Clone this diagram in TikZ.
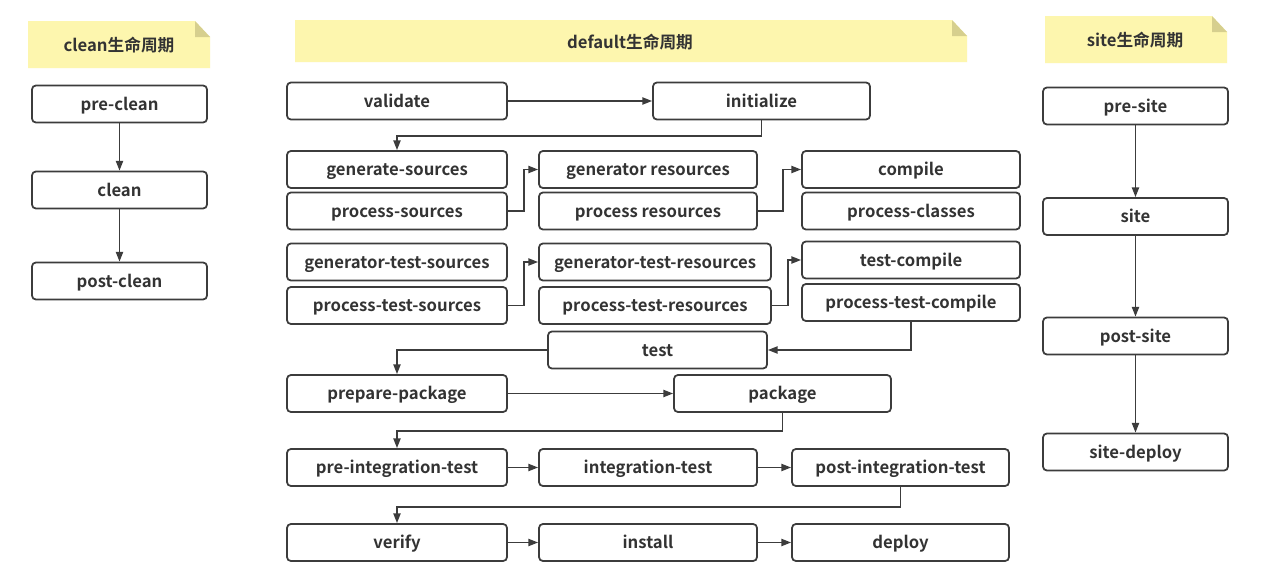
\documentclass[tikz,border=0pt]{standalone}
\usepackage{fontspec}
\setmainfont{Noto Sans CJK SC}[BoldFont={Noto Sans CJK SC Bold}]
\usetikzlibrary{arrows.meta}
\definecolor{notefill}{RGB}{253,246,174}
\definecolor{notefold}{RGB}{214,207,142}
\definecolor{ink}{RGB}{60,60,60}
\definecolor{txt}{RGB}{51,51,51}
\tikzset{
  box/.style={draw=ink, line width=1pt, rounded corners=2.2pt, fill=white,
    minimum height=0.74cm, inner sep=0pt, text=txt,
    text height=0.87em, text depth=0.15em,
    font=\fontsize{9.5}{11}\selectfont\bfseries},
  arr/.style={draw=ink, line width=1pt, -{Triangle[length=5.5pt,width=4pt]}},
  notetxt/.style={text=txt, font=\fontsize{9.5}{11}\selectfont\bfseries, inner sep=0pt,
    text height=0.87em, text depth=0.15em}
}
\newcommand{\notebox}[4]{% x1,y1,x2,y2
  \fill[notefill] (#1,#2) -- ({#3-15},#2) -- (#3,{#2+16}) -- (#3,#4) -- (#1,#4) -- cycle;
  \fill[notefold] ({#3-15},#2) -- ({#3-15},{#2+16}) -- (#3,{#2+16}) -- cycle;
}
\begin{document}
\begin{tikzpicture}[x=0.02cm,y=-0.02cm]
\useasboundingbox (0,0) rectangle (1271,575);
\fill[white] (0,0) rectangle (1271,575);

% ---------- headers ----------
\notebox{28}{21}{210}{68}
\node[notetxt] (hclean) at (119,45) {clean生命周期};
\notebox{295}{20}{967}{62}
\node[notetxt] (hdefault) at (630,42) {default生命周期};
\notebox{1045}{16}{1227}{63}
\node[notetxt] (hsite) at (1135,40) {site生命周期};

% ---------- clean ----------
\node[box, minimum width=3.5cm] (preclean) at (119.5,104) {pre-clean};
\node[box, minimum width=3.5cm] (clean) at (119.5,190) {clean};
\node[box, minimum width=3.5cm] (postclean) at (119.5,281) {post-clean};
\draw[arr] (preclean) -- (clean);
\draw[arr] (clean) -- (postclean);

% ---------- site ----------
\node[box, minimum width=3.7cm] (presite) at (1135.5,106) {pre-site};
\node[box, minimum width=3.7cm] (site) at (1135.5,216.5) {site};
\node[box, minimum width=3.7cm] (postsite) at (1135.5,336) {post-site};
\node[box, minimum width=3.7cm] (sitedeploy) at (1135.5,452) {site-deploy};
\draw[arr] (presite) -- (site);
\draw[arr] (site) -- (postsite);
\draw[arr] (postsite) -- (sitedeploy);

% ---------- default ----------
\node[box, minimum width=4.4cm] (validate) at (397,101) {validate};
\node[box, minimum width=4.34cm] (initialize) at (761.5,101) {initialize};

\node[box, minimum width=4.4cm] (gensrc) at (397,169.5) {generate-sources};
\node[box, minimum width=4.4cm] (procsrc) at (397,211) {process-sources};
\node[box, minimum width=4.36cm] (genres) at (648,169.5) {generator resources};
\node[box, minimum width=4.36cm] (procres) at (648,211) {process resources};
\node[box, minimum width=4.36cm] (compile) at (911,169.5) {compile};
\node[box, minimum width=4.36cm] (procclass) at (911,211) {process-classes};

\node[box, minimum width=4.4cm] (gentsrc) at (397,262) {generator-test-sources};
\node[box, minimum width=4.4cm] (proctsrc) at (397,305.5) {process-test-sources};
\node[box, minimum width=4.64cm] (gentres) at (655,262) {generator-test-resources};
\node[box, minimum width=4.64cm] (proctres) at (655,305.5) {process-test-resources};
\node[box, minimum width=4.36cm] (tcompile) at (911,260) {test-compile};
\node[box, minimum width=4.36cm] (ptcompile) at (911,302.5) {process-test-compile};

\node[box, minimum width=4.38cm] (test) at (657.5,350) {test};
\node[box, minimum width=4.4cm] (prepkg) at (397,393.5) {prepare-package};
\node[box, minimum width=4.34cm] (package) at (782.5,393.5) {package};

\node[box, minimum width=4.4cm] (preint) at (397,467.5) {pre-integration-test};
\node[box, minimum width=4.36cm] (integ) at (648,467.5) {integration-test};
\node[box, minimum width=4.34cm] (postint) at (900.5,467.5) {post-integration-test};

\node[box, minimum width=4.4cm] (verify) at (397,542.5) {verify};
\node[box, minimum width=4.36cm] (install) at (648,542.5) {install};
\node[box, minimum width=4.34cm] (deploy) at (900.5,542.5) {deploy};

% connectors
\draw[arr] (validate) -- (initialize);
\draw[arr] (initialize.south) -- ++(0,16) -| (gensrc.north);
\draw[arr] (procsrc.east) -- ++(16,0) |- (genres.west);
\draw[arr] (procres.east) -- ++(25,0) |- (compile.west);
\draw[arr] (proctsrc.east) -- ++(16,0) |- (gentres.west);
\draw[arr] (proctres.east) -- ++(16,0) |- (tcompile.west);
\draw[arr] (ptcompile.south) |- (test.east);
\draw[arr] (test.west) -| (prepkg.north);
\draw[arr] (prepkg) -- (package);
\draw[arr] (package.south) -- ++(0,18) -| (preint.north);
\draw[arr] (preint) -- (integ);
\draw[arr] (integ) -- (postint);
\draw[arr] (postint.south) -- ++(0,20) -| (verify.north);
\draw[arr] (verify) -- (install);
\draw[arr] (install) -- (deploy);
\end{tikzpicture}
\end{document}
